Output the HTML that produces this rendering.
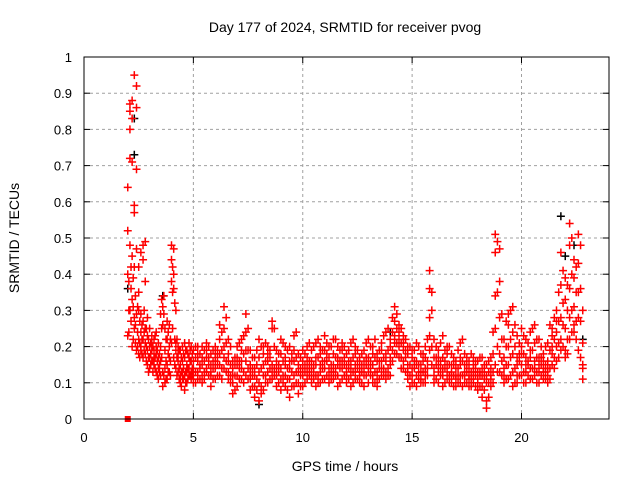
<!DOCTYPE html>
<html><head><meta charset="utf-8"><style>
body{margin:0;background:#fff}
svg{display:block;font-family:"Liberation Sans",sans-serif}
</style></head><body>
<svg id="chart" width="640" height="480" viewBox="0 0 640 480">
<rect width="640" height="480" fill="#fff"/>
<g id="grid"></g>
<g id="ticks"></g>
<g id="marks"></g>
<rect x="84" y="57" width="525" height="362" fill="none" stroke="#000" stroke-width="1"/>
<text x="345" y="32" font-size="14" text-anchor="middle">Day 177 of 2024, SRMTID for receiver pvog</text>
<text x="345" y="471" font-size="14" text-anchor="middle">GPS time / hours</text>
<text transform="translate(19,238) rotate(-90)" font-size="14" text-anchor="middle">SRMTID / TECUs</text>
</svg>
<script>
const xTicks=[0,5,10,15,20];
const yTicks=[0,0.1,0.2,0.3,0.4,0.5,0.6,0.7,0.8,0.9,1];
const yTickLabels=["0","0.1","0.2","0.3","0.4","0.5","0.6","0.7","0.8","0.9","1"];
const redTimes=[2.0,2.1,2.2,2.3,2.4,2.5,2.6,2.7,2.8,2.9,3.0,3.1,3.2,3.3,3.4,3.5,3.6,3.7,3.8,3.9,4.0,4.1,4.2,4.3,4.4,4.5,4.6,4.7,4.8,4.9,5.0,5.2,5.4,5.6,5.8,6.0,6.2,6.4,6.6,6.8,7.0,7.2,7.4,7.6,7.8,8.0,8.2,8.4,8.6,8.8,9.0,9.2,9.4,9.6,9.8,10.0,10.2,10.4,10.6,10.8,11.0,11.2,11.4,11.6,11.8,12.0,12.2,12.4,12.6,12.8,13.0,13.2,13.4,13.6,13.8,14.0,14.2,14.4,14.6,14.8,15.0,15.2,15.4,15.6,15.8,16.0,16.2,16.4,16.6,16.8,17.0,17.2,17.4,17.6,17.8,18.0,18.2,18.4,18.6,18.8,19.0,19.2,19.4,19.6,19.8,20.0,20.2,20.4,20.6,20.8,21.0,21.2,21.4,21.6,21.8,22.0,22.2,22.4,22.6,22.8];
const redValues=[
[.23,.40,.52,.64],[.72,.80,.87,.85,.48,.30],[.83,.88,.71,.45,.20,.33],[.95,.57,.59,.42,.28,.25],[.92,.69,.86,.47,.29,.19],
[.30,.42,.22,.18,.35],[.24,.29,.20,.46,.19],[.48,.44,.27,.22,.17],[.49,.38,.21,.18,.25],[.28,.23,.15,.19],
[.20,.17,.25,.14],[.23,.19,.16,.21],[.19,.15,.22,.17],[.18,.13,.20,.24],[.14,.11,.17,.21],
[.29,.16,.12,.20],[.31,.26,.13,.09],[.25,.19,.10,.14],[.27,.22,.15,.11],[.26,.20,.17,.13],
[.48,.44,.38,.21],[.47,.40,.36,.17],[.30,.21,.14,.19],[.18,.13,.16,.20],[.15,.12,.19,.10],
[.20,.16,.13,.11],[.21,.17,.08,.12],[.19,.15,.10,.13],[.17,.21,.12,.14],[.20,.11,.16,.13],
[.19,.14,.10,.12,.16],[.16,.11,.13,.18,.20],[.20,.15,.12,.10,.17],[.17,.13,.21,.14,.19],[.18,.12,.15,.09,.13],
[.20,.14,.11,.16,.18],[.26,.22,.15,.12,.18],[.31,.25,.20,.14,.17],[.18,.13,.16,.22,.11],[.16,.10,.07,.14,.12],
[.20,.12,.17,.09,.15],[.19,.22,.14,.11,.16],[.29,.24,.16,.12,.19],[.19,.15,.08,.11,.13],[.14,.09,.06,.12,.17],
[.22,.17,.05,.10,.13],[.18,.12,.15,.08,.20],[.20,.13,.10,.16,.18],[.27,.25,.15,.11,.13],[.19,.14,.09,.12,.16],
[.22,.18,.11,.08,.14],[.17,.12,.15,.09,.20],[.20,.14,.11,.06,.16],[.23,.16,.12,.09,.19],[.18,.13,.07,.10,.15],
[.16,.12,.09,.14,.19],[.20,.15,.11,.13,.17],
[.19,.14,.10,.16,.12],[.21,.15,.12,.09,.17],[.18,.13,.10,.15,.20],[.23,.16,.11,.14,.19],[.17,.12,.14,.10,.20],
[.22,.18,.13,.11,.15],[.20,.15,.12,.09,.17],[.19,.14,.11,.16,.21],[.18,.13,.10,.15,.12],[.21,.16,.12,.09,.14],
[.20,.15,.11,.13,.18],[.17,.13,.10,.15,.12],[.19,.14,.09,.12,.16],[.22,.17,.13,.10,.15],[.20,.15,.12,.10,.18],
[.18,.13,.11,.16,.09],[.21,.16,.12,.14,.19],[.24,.18,.13,.11,.16],[.22,.17,.12,.15,.20],[.31,.27,.23,.18,.21],
[.26,.24,.20,.17,.22],[.23,.19,.14,.16,.21],[.20,.15,.11,.13,.18],[.19,.14,.10,.12,.17],[.21,.16,.12,.09,.15],
[.18,.13,.10,.15,.11],[.20,.14,.12,.17,.10],[.41,.36,.28,.23,.19],[.22,.17,.12,.14,.10],[.19,.13,.10,.15,.17],
[.23,.17,.12,.14,.09],[.20,.15,.11,.13,.18],[.18,.13,.10,.15,.12],[.16,.12,.09,.14,.11],[.21,.15,.12,.17,.10],
[.18,.13,.10,.15,.12],[.16,.12,.09,.14,.11],[.17,.13,.10,.15,.12],[.16,.11,.08,.13,.10],[.17,.12,.09,.14,.06],
[.15,.10,.05,.12,.03],[.17,.12,.09,.14,.11],[.51,.46,.34,.25,.15],[.47,.38,.28,.18,.13],[.22,.17,.12,.14,.10],
[.29,.26,.20,.15,.11],[.31,.24,.18,.13,.09],[.23,.17,.12,.15,.10],[.25,.20,.15,.12,.18],[.22,.17,.13,.10,.15],
[.24,.19,.14,.11,.17],[.26,.21,.16,.12,.14],[.22,.17,.13,.10,.15],[.18,.14,.11,.13,.16],[.21,.16,.12,.10,.14],
[.25,.20,.15,.23,.18],[.30,.24,.20,.16,.27],[.46,.37,.28,.22,.19],[.39,.33,.25,.19,.17],[.54,.48,.36,.28,.22],
[.44,.39,.31,.26,.24],[.51,.43,.35,.28,.19],[.30,.21,.15,.11,.14]];
const redTimes2=[2.05,2.15,2.25,2.35,2.45,2.55,2.65,2.75,2.85,2.95,3.05,3.15,3.25,3.35,3.45,3.55,3.65,3.75,3.85,3.95,4.05,4.15,4.25,4.35,4.45,4.55,4.65,4.75,4.85,4.95,5.1,5.3,5.5,5.7,5.9,6.1,6.3,6.5,6.7,6.9,7.1,7.3,7.5,7.7,7.9,8.1,8.3,8.5,8.7,8.9,9.1,9.3,9.5,9.7,9.9,10.1,10.3,10.5,10.7,10.9,11.1,11.3,11.5,11.7,11.9,12.1,12.3,12.5,12.7,12.9,13.1,13.3,13.5,13.7,13.9,14.1,14.3,14.5,14.7,14.9,15.1,15.3,15.5,15.7,15.9,16.1,16.3,16.5,16.7,16.9,17.1,17.3,17.5,17.7,17.9,18.1,18.3,18.5,18.7,18.9,19.1,19.3,19.5,19.7,19.9,20.1,20.3,20.5,20.7,20.9,21.1,21.3,21.5,21.7,21.9,22.1,22.3,22.5,22.7];
const redValues2=[
[.38,.30,.24],[.42,.36,.27],[.39,.31,.22],[.34,.26,.21],[.31,.24,.20],
[.27,.21,.17],[.26,.18,.22],[.30,.24,.19],[.25,.20,.16],[.22,.17,.13],
[.18,.15,.21],[.20,.16,.13],[.17,.14,.23],[.16,.12,.19],[.15,.13,.18],
[.33,.25,.17],[.34,.29,.12],[.22,.16,.11],[.24,.18,.13],[.22,.16,.12],
[.42,.35,.25],[.32,.22,.15],[.22,.17,.12],[.19,.14,.11],[.17,.13,.09],
[.18,.14,.11],[.19,.13,.10],[.18,.14,.11],[.16,.12,.19],[.18,.14,.12],
[.17,.13,.10,.20],[.18,.14,.11,.15],[.19,.13,.16,.11],[.20,.15,.12,.17],[.16,.11,.14,.19],
[.19,.15,.12,.17],[.24,.19,.14,.11],[.28,.21,.16,.13],[.20,.15,.12,.10],[.17,.12,.08,.15],
[.21,.16,.11,.14],[.23,.18,.13,.10],[.25,.19,.14,.11],[.17,.12,.09,.14],[.15,.11,.08,.19],
[.20,.14,.09,.07],[.21,.16,.12,.10],[.19,.14,.11,.17],[.25,.20,.14,.12],[.18,.13,.10,.15],
[.21,.16,.12,.10],[.19,.14,.11,.08],[.18,.13,.09,.16],[.24,.17,.13,.10],[.17,.12,.09,.14],
[.18,.13,.10,.15],[.21,.16,.12,.14],[.20,.15,.11,.13],[.22,.17,.12,.10],[.19,.14,.11,.16],
[.21,.16,.12,.18],[.20,.15,.11,.13],[.22,.17,.12,.14],[.19,.14,.10,.16],[.20,.15,.12,.17],
[.19,.14,.11,.16],[.22,.17,.13,.10],[.19,.14,.11,.16],[.18,.13,.10,.15],[.21,.15,.12,.17],
[.20,.16,.12,.14],[.22,.17,.13,.10],[.19,.14,.11,.16],[.23,.17,.12,.14],[.25,.19,.14,.12],
[.28,.24,.19,.16],[.29,.25,.21,.18],[.25,.21,.17,.14],[.22,.17,.13,.19],[.20,.15,.12,.09],
[.19,.14,.10,.16],[.20,.15,.11,.13],[.18,.13,.10,.16],[.22,.16,.12,.14],[.35,.30,.20,.15],
[.20,.15,.11,.17],[.21,.16,.12,.14],[.19,.14,.10,.16],[.20,.15,.12,.10],[.17,.12,.09,.15],
[.19,.14,.10,.12],[.22,.16,.12,.09],[.17,.13,.10,.15],[.18,.13,.09,.11],[.16,.12,.09,.14],
[.17,.12,.09,.13],[.15,.11,.08,.13],[.16,.10,.06,.13],[.18,.13,.10,.24],[.49,.35,.20,.13],
[.29,.22,.16,.12],[.27,.20,.15,.11],[.30,.22,.17,.12],[.26,.20,.14,.10],[.21,.16,.12,.18],
[.23,.18,.13,.10],[.21,.16,.12,.15],[.25,.19,.14,.11],[.22,.17,.13,.10],[.20,.15,.12,.17],
[.20,.15,.11,.13],[.26,.19,.14,.11],[.28,.22,.17,.14],[.35,.27,.21,.17],[.41,.32,.26,.20],
[.37,.30,.22,.18],[.50,.40,.30,.24],[.42,.35,.27,.22],[.48,.36,.27,.17]];
const blackTimes=[2.0,2.3,2.3,3.6,8.0,14.0,21.8,22.0,22.4,22.8];
const blackValues=[.36,.73,.83,.34,.04,.24,.56,.45,.48,.22];
const squareTimes=[2.0];
const squareValues=[0.0];

const X0=84,X1=609,Y0=419,Y1=57,XMAX=24;
const xs=t=>X0+(X1-X0)*t/XMAX;
const ys=v=>Y0-(Y0-Y1)*v;
const NS="http://www.w3.org/2000/svg";
function mk(tag,attrs,parent){const e=document.createElementNS(NS,tag);for(const k in attrs)e.setAttribute(k,attrs[k]);parent.appendChild(e);return e;}
const grid=document.getElementById('grid'),ticks=document.getElementById('ticks'),marks=document.getElementById('marks');
xTicks.forEach(t=>{
  const x=xs(t);
  if(t>0){const g=mk('line',{x1:x,x2:x,y1:Y0,y2:Y1,stroke:'#a0a0a0','stroke-dasharray':'3,3'},grid);
  
  }
  mk('line',{x1:x,x2:x,y1:Y0,y2:Y0-6,stroke:'#000'},ticks);
  mk('line',{x1:x,x2:x,y1:Y1,y2:Y1+6,stroke:'#000'},ticks);
  const l=mk('text',{x:x,y:442,'font-size':13,'text-anchor':'middle'},ticks);
  l.textContent=String(t);
  
  
});
yTicks.forEach((v,i)=>{
  const y=ys(v);
  if(i>0&&i<yTicks.length-1){const g=mk('line',{x1:X0,x2:X1,y1:y,y2:y,stroke:'#a0a0a0','stroke-dasharray':'3,3'},grid);
  
  }
  mk('line',{x1:X0,x2:X0+6,y1:y,y2:y,stroke:'#000'},ticks);
  mk('line',{x1:X1,x2:X1-6,y1:y,y2:y,stroke:'#000'},ticks);
  const l=mk('text',{x:72,y:y+5,'font-size':13,'text-anchor':'end'},ticks);
  l.textContent=yTickLabels[i];
  
  
});
function plus(t,v,color){
  const x=xs(t),y=ys(v);
  const p=mk('path',{d:`M${x-4},${y}h8M${x},${y-4}v8`,stroke:color,'stroke-width':1.5,fill:'none'},marks);
  
  
}
blackTimes.forEach((t,i)=>plus(t,blackValues[i],'#000'));
redTimes.forEach((t,i)=>redValues[i].forEach(v=>plus(t,v,'#ff0000')));
redTimes2.forEach((t,i)=>redValues2[i].forEach(v=>plus(t,v,'#ff0000')));
squareTimes.forEach((t,i)=>{
  const s=mk('rect',{x:xs(t)-3,y:ys(squareValues[i])-3,width:6,height:6,fill:'#ff0000'},marks);
  
  
});
</script>
</body></html>
